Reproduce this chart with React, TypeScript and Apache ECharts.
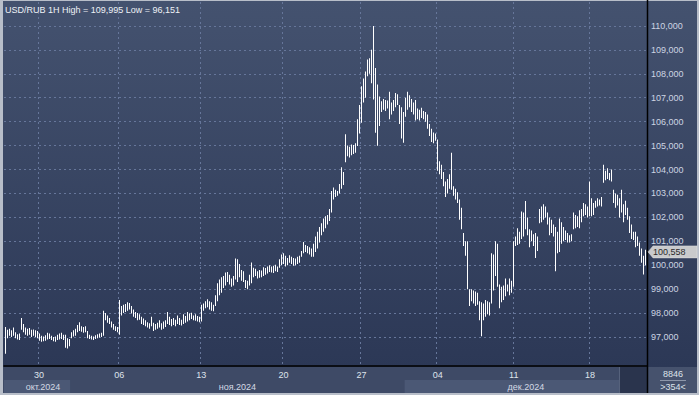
import React, { useEffect, useRef } from "react";
import * as echarts from "echarts";

// ---- data (hourly bars, low / high) ----
const lows = [
  96.30, 96.95, 97.05, 97.00, 97.05, 96.95, 96.90, 96.88, 97.30, 97.20,
  97.10, 97.05, 97.10, 97.00, 97.05, 97.00, 96.95, 96.85, 96.80, 96.82,
  96.85, 96.90, 96.92, 96.88, 96.82, 96.80, 96.88, 96.90, 96.92, 96.88,
  96.55, 96.52, 96.62, 96.95, 97.02, 97.05, 97.20, 97.25, 97.22, 97.18,
  97.20, 96.95, 96.92, 96.90, 96.88, 96.92, 96.95, 96.98, 97.00, 97.05,
  97.70, 97.60, 97.55, 97.40, 97.30, 97.25, 97.20, 97.10, 97.90, 98.00,
  98.05, 98.10, 98.15, 97.98, 97.85, 97.80, 97.70, 97.72, 97.55, 97.50,
  97.45, 97.40, 97.35, 97.45, 97.25, 97.30, 97.35, 97.40, 97.30, 97.35,
  97.42, 97.55, 97.50, 97.45, 97.50, 97.45, 97.55, 97.50, 97.48, 97.55,
  97.60, 97.65, 97.70, 97.75, 97.70, 97.68, 97.65, 97.62, 97.65, 98.10,
  98.20, 98.25, 98.15, 98.10, 98.08, 98.30, 98.50, 98.75, 98.85, 99.05,
  99.15, 99.30, 99.20, 99.10, 99.15, 99.40, 99.30, 99.50, 99.35, 99.30,
  99.05, 99.00, 99.15, 99.25, 99.50, 99.55, 99.45, 99.48, 99.50, 99.55,
  99.60, 99.65, 99.72, 99.70, 99.68, 99.75, 99.72, 99.90, 100.00, 100.05,
  99.95, 100.00, 100.10, 100.05, 99.98, 100.00, 100.05, 100.10, 100.35, 100.50,
  100.55, 100.50, 100.45, 100.35, 100.35, 100.55, 100.70, 100.95, 101.25, 101.40,
  101.55, 101.70, 101.85, 102.20, 102.75, 102.85, 102.90, 103.00, 103.20, 103.35,
  104.30, 104.55, 104.50, 104.60, 104.65, 104.70, 104.98, 105.50, 105.95, 106.80,
  107.00, 107.90, 108.00, 107.60, 106.93, 105.54, 104.99, 105.82, 106.40, 106.50,
  106.45, 106.55, 106.10, 106.30, 106.45, 106.60, 106.70, 105.90, 105.30, 105.12,
  106.20, 106.50, 106.60, 106.40, 106.30, 106.05, 106.10, 106.05, 106.15, 106.10,
  106.00, 105.70, 105.40, 105.15, 105.10, 105.20, 103.95, 103.80, 103.60, 103.30,
  102.85, 103.00, 103.20, 103.15, 102.90, 102.75, 102.60, 101.90, 101.50, 100.80,
  100.40, 99.00, 98.30, 98.50, 98.40, 98.30, 98.35, 97.70, 97.03, 97.70,
  97.85, 97.95, 97.90, 98.40, 98.95, 99.55, 99.10, 98.20, 98.45, 98.55,
  98.70, 98.90, 98.75, 98.85, 99.10, 100.80, 100.85, 100.90, 101.10, 101.20,
  101.50, 101.25, 100.75, 101.00, 100.80, 100.30, 100.60, 101.75, 101.80, 101.90,
  102.00, 101.70, 101.25, 101.35, 101.20, 99.75, 100.50, 100.55, 100.90, 101.00,
  101.05, 100.95, 100.95, 101.00, 101.50, 101.55, 101.60, 101.55, 101.80, 102.05,
  102.10, 102.00, 102.05, 102.05, 102.10, 102.40, 102.45, 102.50, 102.45, 103.45,
  103.55, 103.60, 103.55, 103.50, 102.60, 102.40, 102.50, 102.00, 102.20, 101.80,
  102.10, 101.90, 101.35, 101.10, 101.05, 100.75, 100.80, 100.40, 100.10, 99.61,
  100.00,
];

const highs = [
  97.42, 97.30, 97.35, 97.28, 97.40, 97.20, 97.12, 97.15, 97.80, 97.55,
  97.40, 97.35, 97.38, 97.30, 97.32, 97.28, 97.25, 97.15, 97.05, 97.02,
  97.08, 97.18, 97.15, 97.05, 97.00, 97.02, 97.10, 97.15, 97.18, 97.10,
  97.10, 96.95, 96.92, 97.20, 97.28, 97.35, 97.50, 97.62, 97.45, 97.42,
  97.45, 97.25, 97.10, 97.05, 97.02, 97.08, 97.12, 97.15, 97.18, 98.10,
  98.00, 97.90, 97.80, 97.65, 97.55, 97.45, 97.42, 98.55, 98.30, 98.35,
  98.38, 98.45, 98.42, 98.30, 98.15, 98.05, 98.00, 97.95, 97.85, 97.78,
  97.70, 97.62, 97.58, 97.85, 97.60, 97.55, 97.60, 97.70, 97.58, 97.65,
  97.70, 98.05, 97.85, 97.75, 97.80, 97.72, 97.90, 97.80, 97.72, 97.95,
  97.88, 98.05, 97.98, 98.02, 97.90, 97.95, 97.88, 97.85, 98.35, 98.40,
  98.50, 98.58, 98.50, 98.45, 98.35, 98.75, 99.25, 99.40, 99.50, 99.55,
  99.70, 99.72, 99.60, 99.45, 99.55, 100.28, 100.25, 100.05, 99.80, 99.75,
  99.38, 99.35, 99.60, 100.12, 99.90, 99.85, 99.75, 99.80, 99.78, 99.92,
  99.88, 99.95, 100.00, 99.95, 99.98, 100.02, 99.95, 100.25, 100.45, 100.50,
  100.40, 100.30, 100.42, 100.35, 100.30, 100.28, 100.35, 100.40, 100.60, 100.97,
  100.85, 100.80, 100.75, 100.70, 100.90, 101.20, 101.40, 101.60, 101.75, 101.95,
  102.05, 102.10, 102.35, 103.10, 103.25, 103.15, 103.10, 103.40, 104.10, 103.90,
  105.47, 105.00, 104.95, 105.05, 105.02, 105.10, 106.10, 106.70, 107.48, 107.80,
  108.10, 108.60, 108.65, 109.00, 109.995, 108.24, 107.55, 107.05, 106.85, 106.95,
  106.90, 106.88, 107.25, 106.80, 106.90, 107.20, 107.15, 106.70, 106.60, 106.40,
  107.00, 107.25, 107.10, 106.95, 106.80, 106.90, 106.55, 106.50, 106.58, 106.45,
  106.40, 106.30, 105.90, 105.70, 105.55, 105.50, 105.25, 104.35, 104.20, 103.90,
  103.50, 103.60, 103.80, 104.70, 103.30, 103.20, 103.05, 102.75, 102.40, 101.35,
  101.00, 101.00, 99.00, 99.00, 98.95, 98.90, 98.85, 98.50, 98.45, 98.40,
  98.55, 98.50, 98.45, 100.50, 100.45, 101.00, 100.90, 99.20, 99.10, 99.15,
  99.45, 99.20, 99.45, 99.35, 101.00, 101.20, 101.55, 101.40, 102.25, 102.20,
  102.68, 102.00, 101.50, 101.45, 101.30, 101.35, 101.20, 102.35, 102.45, 102.55,
  102.45, 102.20, 102.00, 101.90, 101.70, 101.60, 101.40, 101.95, 101.80, 101.60,
  101.45, 101.35, 101.25, 101.30, 102.20, 102.10, 102.05, 102.30, 102.35, 102.60,
  102.55, 102.45, 103.50, 102.80, 102.60, 102.70, 102.80, 102.75, 102.85, 104.20,
  103.95, 104.05, 103.85, 104.00, 103.15, 103.00, 102.95, 102.80, 103.15, 102.55,
  102.70, 102.40, 102.05, 101.70, 101.40, 101.40, 101.20, 100.95, 100.70, 100.40,
  100.65,
];

const dayLabels = ["30", "06", "13", "20", "27", "04", "11", "18"];
const dayLabelIndex = [17, 57, 98, 139, 178, 216, 254, 292];
const monthLabels = ["окт.2024", "ноя.2024", "дек.2024"];
const monthStartIndex = [0, 33, 200];
const yTicks = [97, 98, 99, 100, 101, 102, 103, 104, 105, 106, 107, 108, 109, 110];
const yMin = 95.79;
const yMax = 111.0;
const lastPrice = 100.558;
const titleText = "USD/RUB 1H High = 109,995 Low = 96,151";
const footerTop = "8846";
const footerBottom = ">354<";

const FONT = "'Liberation Sans', Arial, sans-serif";
const GRID_COLOR = "#66769a";
const fmt = (v: number) => v.toFixed(3).replace(".", ",");

export default function App() {
  const ref = useRef<HTMLDivElement>(null);

  useEffect(() => {
    if (!ref.current) return;
    const chart = echarts.init(ref.current, undefined, { renderer: "svg", width: 699, height: 395 });
    const categories = lows.map((_, i) => String(i));
    const labelMap: Record<number, string> = {};
    dayLabelIndex.forEach((idx, k) => (labelMap[idx] = dayLabels[k]));
    const isLabel = (i: number) => labelMap[i] !== undefined;

    const gridLeft = 4;
    const gridRight = 647;
    const gridTop = 2;
    const gridBottom = 366;

    chart.setOption({
      animation: false,
      backgroundColor: "transparent",
      grid: { left: gridLeft, right: 699 - gridRight, top: gridTop, bottom: 395 - gridBottom, containLabel: false },
      xAxis: {
        type: "category",
        data: categories,
        boundaryGap: true,
        axisLine: { show: true, lineStyle: { color: "#000000", width: 1.5 } },
        axisTick: { show: false },
        axisLabel: {
          interval: (i: number) => isLabel(i),
          formatter: (_v: string, i: number) => labelMap[i] ?? "",
          color: "#dfe4ec",
          fontSize: 9,
          fontFamily: FONT,
          margin: 4,
        },
        splitLine: {
          show: true,
          interval: (i: number) => isLabel(i),
          lineStyle: { color: GRID_COLOR, width: 1, type: [2, 3] },
        },
      },
      yAxis: {
        type: "value",
        position: "right",
        min: yMin,
        max: yMax,
        axisLine: { show: false },
        axisTick: { show: false, customValues: yTicks },
        axisLabel: {
          customValues: yTicks,
          formatter: (v: number) => fmt(v),
          color: "#cdd5e3",
          fontSize: 9,
          fontFamily: FONT,
          margin: 4,
        },
        splitLine: { show: true, lineStyle: { color: GRID_COLOR, width: 1, type: [2, 3] } },
      },
      series: [
        {
          type: "custom",
          clip: true,
          data: lows.map((l, i) => [i, l, highs[i]]),
          encode: { x: 0, y: [1, 2] },
          renderItem: (_p: any, api: any) => {
            const i = api.value(0);
            const lo = api.coord([i, api.value(1)]);
            const hi = api.coord([i, api.value(2)]);
            const x = Math.floor(lo[0]);
            const top = Math.min(hi[1], lo[1]);
            const h = Math.max(1, Math.abs(lo[1] - hi[1]));
            return { type: "rect", shape: { x, y: top, width: 1, height: h }, style: { fill: "#ffffff" } };
          },
        },
      ],
    });

    const band = (gridRight - gridLeft) / categories.length;
    const startX = (i: number) => (chart.convertToPixel({ xAxisIndex: 0 }, categories[i]) as number) - band / 2;
    const yPx = (v: number) => chart.convertToPixel({ yAxisIndex: 0 }, v) as number;

    const mStart = monthStartIndex.map((i) => (i === 0 ? gridLeft : startX(i)));
    const mEnd = monthStartIndex.map((_, k) => (k < monthStartIndex.length - 1 ? mStart[k + 1] : gridRight));
    const monthCenters = mStart.map((s, k) => (s + mEnd[k]) / 2);
    monthCenters[0] = 43;

    const py = yPx(lastPrice);
    const graphic: any[] = [];
    // right-bottom info panel
    graphic.push({ type: "rect", shape: { x: 648, y: 367, width: 49, height: 26 }, style: { fill: "#46526d" }, silent: true });
    [0, 2].forEach((k) => {
      graphic.push({
        type: "rect",
        shape: { x: mStart[k], y: 380, width: mEnd[k] - mStart[k], height: 13 },
        style: { fill: "#4b5875" },
        silent: true,
      });
    });
    graphic.push({ type: "rect", shape: { x: 620, y: 367, width: 27, height: 26 }, style: { fill: "#2a344d" }, silent: true });
    graphic.push({ type: "line", shape: { x1: 619.5, y1: 367, x2: 619.5, y2: 393 }, style: { stroke: "#56627c", lineWidth: 1 }, silent: true });
    monthLabels.forEach((m, k) => {
      graphic.push({
        type: "text",
        x: monthCenters[k],
        y: 386.5,
        style: { text: m, fill: "#d3d9e4", font: `9px ${FONT}`, align: "center", verticalAlign: "middle" },
        silent: true,
      });
    });
    graphic.push({ type: "line", shape: { x1: 647.5, y1: 0, x2: 647.5, y2: 393 }, style: { stroke: "#000000", lineWidth: 1.5 }, silent: true });
    graphic.push({
      type: "text",
      x: 5,
      y: 9.5,
      style: { text: titleText, fill: "#eef1f6", font: `9px ${FONT}`, align: "left", verticalAlign: "middle" },
      silent: true,
    });
    graphic.push({
      type: "text",
      x: 673,
      y: 374,
      style: { text: footerTop, fill: "#dde2ea", font: `9px ${FONT}`, align: "center", verticalAlign: "middle" },
      silent: true,
    });
    graphic.push({ type: "line", shape: { x1: 660, y1: 380.5, x2: 686, y2: 380.5 }, style: { stroke: "#8d97aa", lineWidth: 1 }, silent: true });
    graphic.push({
      type: "text",
      x: 673,
      y: 386.5,
      style: { text: footerBottom, fill: "#dde2ea", font: `9px ${FONT}`, align: "center", verticalAlign: "middle" },
      silent: true,
    });
    graphic.push({
      type: "polygon",
      shape: {
        points: [
          [648, py],
          [653, py - 6],
          [697, py - 6],
          [697, py + 6],
          [653, py + 6],
        ],
      },
      style: { fill: "#c9cacc", stroke: "#e0e0e0", lineWidth: 0.5 },
      silent: true,
    });
    graphic.push({
      type: "text",
      x: 653,
      y: py + 0.5,
      style: { text: fmt(lastPrice), fill: "#2b2b2b", font: `9px ${FONT}`, align: "left", verticalAlign: "middle" },
      silent: true,
    });

    chart.setOption({ graphic });

    return () => chart.dispose();
  }, []);

  return (
    <div style={{ position: "fixed", left: 0, top: 0, width: 699, height: 395, background: "#b8bec9", overflow: "hidden" }}>
      <div
        style={{
          position: "absolute",
          left: 3,
          top: 1,
          width: 694,
          height: 366,
          background: "linear-gradient(to bottom, #44526f 0%, #2c3856 100%)",
        }}
      />
      <div style={{ position: "absolute", left: 3, top: 367, width: 694, height: 26, background: "#3e4a66" }} />
      <div ref={ref} style={{ position: "absolute", left: 0, top: 0, width: 699, height: 395 }} />
    </div>
  );
}
